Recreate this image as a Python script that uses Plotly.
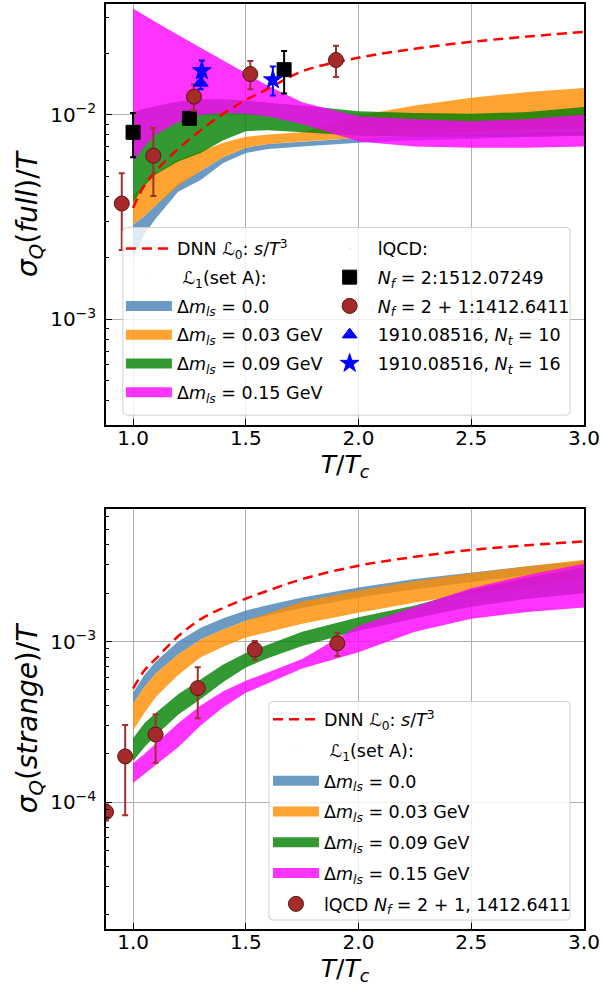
import plotly.graph_objects as go

FONT = "DejaVu Sans"

# ---------------- data ----------------
x_grid = [1.0, 1.05, 1.1, 1.2, 1.3, 1.4, 1.5, 1.6, 1.75, 2.0, 2.25, 2.5, 2.75, 3.0]

# top panel: sigma_Q(full)/T
full_dnn = [0.0035, 0.0045, 0.0053, 0.0068, 0.0084, 0.0101, 0.0118, 0.0134, 0.0163, 0.0190, 0.0210, 0.0227, 0.0241, 0.0254]
full_b_lo = [0.0020, 0.0026, 0.0031, 0.0042, 0.0048, 0.0058, 0.0065, 0.0068, 0.0070, 0.0073, 0.0075, 0.0076, 0.0078, 0.0079]
full_b_hi = [0.0029, 0.0032, 0.0036, 0.0046, 0.0053, 0.0062, 0.0069, 0.0072, 0.0074, 0.0077, 0.0079, 0.0080, 0.0082, 0.0083]
full_o_lo = [0.0029, 0.0032, 0.0036, 0.0045, 0.0053, 0.0062, 0.0069, 0.0072, 0.0074, 0.0077, 0.0080, 0.0082, 0.0084, 0.0086]
full_o_hi = [0.0040, 0.0046, 0.0052, 0.0060, 0.0066, 0.0073, 0.0078, 0.0080, 0.0082, 0.0099, 0.0111, 0.0121, 0.0129, 0.0135]
full_g_lo = [0.0037, 0.0045, 0.0051, 0.0059, 0.0065, 0.0075, 0.0083, 0.0084, 0.0082, 0.0079, 0.0078, 0.0078, 0.0078, 0.0079]
full_g_hi = [0.0103, 0.0107, 0.0110, 0.0116, 0.0119, 0.0119, 0.0117, 0.0115, 0.0111, 0.0104, 0.0102, 0.0101, 0.0103, 0.0109]
full_m_lo = [0.0059, 0.0070, 0.0080, 0.0092, 0.0100, 0.0102, 0.0101, 0.0098, 0.0090, 0.0074, 0.0070, 0.0069, 0.0069, 0.0070]
full_m_hi = [0.0330, 0.0305, 0.0284, 0.0245, 0.0212, 0.0184, 0.0159, 0.0138, 0.0115, 0.0098, 0.0095, 0.0093, 0.0095, 0.0100]

nf2_x = [1.0, 1.25, 1.67]
nf2_y = [0.0082, 0.0096, 0.0166]
nf2_err = [0.0020, 0.0003, 0.0039]
nf21_x = [0.95, 1.09, 1.27, 1.52, 1.90]
nf21_y = [0.00368, 0.0063, 0.01225, 0.0158, 0.0185]
nf21_err = [0.0015, 0.0023, 0.0018, 0.0025, 0.0032]
nt10_x = [1.30]
nt10_y = [0.0143]
nt10_err = [0.0010]
nt16_x = [1.305, 1.62]
nt16_y = [0.0164, 0.0148]
nt16_err = [0.0020, 0.0024]

# bottom panel: sigma_Q(strange)/T
str_dnn = [5.1e-4, 6.6e-4, 7.8e-4, 1.08e-3, 1.38e-3, 1.62e-3, 1.85e-3, 2.08e-3, 2.45e-3, 2.97e-3, 3.37e-3, 3.72e-3, 3.98e-3, 4.2e-3]
str_b_lo = [4.1e-4, 5.2e-4, 6.3e-4, 8.3e-4, 1.03e-3, 1.19e-3, 1.35e-3, 1.46e-3, 1.62e-3, 1.88e-3, 2.12e-3, 2.36e-3, 2.60e-3, 2.85e-3]
str_b_hi = [4.8e-4, 6.2e-4, 7.5e-4, 1.0e-3, 1.22e-3, 1.40e-3, 1.56e-3, 1.69e-3, 1.88e-3, 2.17e-3, 2.45e-3, 2.70e-3, 2.95e-3, 3.18e-3]
str_o_lo = [2.8e-4, 3.6e-4, 4.5e-4, 6.2e-4, 8.0e-4, 9.3e-4, 1.06e-3, 1.15e-3, 1.29e-3, 1.51e-3, 1.75e-3, 1.98e-3, 2.20e-3, 2.45e-3]
str_o_hi = [4.1e-4, 5.2e-4, 6.3e-4, 8.3e-4, 1.03e-3, 1.19e-3, 1.35e-3, 1.50e-3, 1.78e-3, 2.08e-3, 2.38e-3, 2.66e-3, 2.95e-3, 3.23e-3]
str_g_lo = [1.8e-4, 2.2e-4, 2.6e-4, 3.5e-4, 4.4e-4, 5.6e-4, 6.9e-4, 7.9e-4, 9.4e-4, 1.17e-3, 1.40e-3, 1.65e-3, 1.85e-3, 2.0e-3]
str_g_hi = [2.5e-4, 3.1e-4, 3.6e-4, 4.7e-4, 5.8e-4, 7.2e-4, 8.5e-4, 9.6e-4, 1.15e-3, 1.42e-3, 1.68e-3, 2.10e-3, 2.50e-3, 2.90e-3]
str_m_lo = [1.32e-4, 1.5e-4, 1.7e-4, 2.2e-4, 3.0e-4, 3.9e-4, 4.8e-4, 5.5e-4, 6.8e-4, 8.6e-4, 1.15e-3, 1.39e-3, 1.53e-3, 1.63e-3]
str_m_hi = [1.75e-4, 2.0e-4, 2.3e-4, 3.1e-4, 4.0e-4, 4.9e-4, 5.7e-4, 6.5e-4, 7.8e-4, 1.25e-3, 1.65e-3, 2.15e-3, 2.60e-3, 3.05e-3]

lq_x = [0.88, 0.965, 1.10, 1.287, 1.54, 1.906]
lq_y = [8.7e-5, 1.93e-4, 2.64e-4, 5.13e-4, 8.9e-4, 9.75e-4]
lq_err = [1e-5, 1.1e-4, 8.8e-5, 1.8e-4, 1.2e-4, 1.6e-4]

band_names = ["Δ<i>m</i><sub><i>ls</i></sub> = 0.0",
              "Δ<i>m</i><sub><i>ls</i></sub> = 0.03 GeV",
              "Δ<i>m</i><sub><i>ls</i></sub> = 0.09 GeV",
              "Δ<i>m</i><sub><i>ls</i></sub> = 0.15 GeV"]
band_colors = ["rgba(70,130,180,0.8)", "rgba(255,140,0,0.8)",
               "rgba(0,128,0,0.8)", "rgba(255,0,255,0.8)"]
dnn_name = "DNN ℒ<sub>0</sub>: <i>s</i>/<i>T</i><sup>3</sup>"
l1_name = " ℒ<sub>1</sub>(set A):"

x_ticks = [1.0, 1.5, 2.0, 2.5, 3.0]
x_ticktext = ["1.0", "1.5", "2.0", "2.5", "3.0"]

fig = go.Figure()


def add_band(lo, hi, color, name, xa, ya, legend, rank):
    # the band itself
    fig.add_trace(go.Scatter(
        x=x_grid + x_grid[::-1], y=lo + hi[::-1], fill="toself", mode="lines",
        line=dict(width=0, color=color), fillcolor=color, name=name,
        xaxis=xa, yaxis=ya, showlegend=False, legendgroup=legend + name,
        hoverinfo="skip"))
    # legend patch
    fig.add_trace(go.Scatter(
        x=[None], y=[None], mode="lines", line=dict(width=13, color=color), name=name,
        xaxis=xa, yaxis=ya, legend=legend, legendrank=rank, legendgroup=legend + name))


def add_header(name, legend, rank, xa, ya):
    fig.add_trace(go.Scatter(
        x=[None], y=[None], mode="markers", marker=dict(opacity=0, size=1),
        name=name, xaxis=xa, yaxis=ya, legend=legend, legendrank=rank,
        legendgroup=legend + name))


def add_points(xs, ys, err, symbol, color, edge, size, name, xa, ya, legend, rank, ecolor):
    fig.add_trace(go.Scatter(
        x=xs, y=ys, mode="markers", name=name, xaxis=xa, yaxis=ya,
        marker=dict(symbol=symbol, color=color, size=size, line=dict(color=edge, width=1)),
        error_y=dict(type="data", array=err, color=ecolor, thickness=2, width=3),
        legend=legend, legendrank=rank, legendgroup=legend + name, cliponaxis=True))


# ---- top panel ----
for lo, hi, c, n, r in zip([full_b_lo, full_o_lo, full_g_lo, full_m_lo],
                           [full_b_hi, full_o_hi, full_g_hi, full_m_hi],
                           band_colors, band_names, [3, 4, 5, 6]):
    add_band(lo, hi, c, n, "x", "y", "legend", r)
fig.add_trace(go.Scatter(x=x_grid, y=full_dnn, mode="lines", name=dnn_name,
                         line=dict(color="red", width=2.5, dash="10px,6px", shape="spline"),
                         xaxis="x", yaxis="y", legend="legend", legendrank=1,
                         legendgroup="legenddnn"))
add_header(l1_name, "legend", 2, "x", "y")
add_header("lQCD:", "legend2", 1, "x", "y")
add_points(nf2_x, nf2_y, nf2_err, "square", "black", "black", 14,
           "<i>N</i><sub><i>f</i></sub> = 2:1512.07249", "x", "y", "legend2", 2, "black")
add_points(nf21_x, nf21_y, nf21_err, "circle", "#a52a2a", "#5a1414", 15,
           "<i>N</i><sub><i>f</i></sub> = 2 + 1:1412.6411", "x", "y", "legend2", 3, "#a0302c")
add_points(nt10_x, nt10_y, nt10_err, "triangle-up", "blue", "blue", 13,
           "1910.08516, <i>N</i><sub><i>t</i></sub> = 10", "x", "y", "legend2", 4, "blue")
add_points(nt16_x, nt16_y, nt16_err, "star", "blue", "blue", 14,
           "1910.08516, <i>N</i><sub><i>t</i></sub> = 16", "x", "y", "legend2", 5, "blue")

# ---- bottom panel ----
for lo, hi, c, n, r in zip([str_b_lo, str_o_lo, str_g_lo, str_m_lo],
                           [str_b_hi, str_o_hi, str_g_hi, str_m_hi],
                           band_colors, band_names, [3, 4, 5, 6]):
    add_band(lo, hi, c, n, "x2", "y2", "legend3", r)
fig.add_trace(go.Scatter(x=x_grid, y=str_dnn, mode="lines", name=dnn_name,
                         line=dict(color="red", width=2.5, dash="10px,6px", shape="spline"),
                         xaxis="x2", yaxis="y2", legend="legend3", legendrank=1,
                         legendgroup="legend3dnn"))
add_header(l1_name, "legend3", 2, "x2", "y2")
add_points(lq_x, lq_y, lq_err, "circle", "#a52a2a", "#5a1414", 15,
           "lQCD <i>N</i><sub><i>f</i></sub> = 2 + 1, 1412.6411", "x2", "y2", "legend3", 7, "#a0302c")

# ---------------- layout ----------------
W, H = 602, 994
ML, MR, MT, MB = 106, 15, 2, 65
PW, PH = W - ML - MR, H - MT - MB


def px2x(px):
    return (px - ML) / PW


def py2y(py):
    return (H - MB - py) / PH


top_dom = [py2y(424), 1.0]
bot_dom = [0.0, py2y(508)]


def minor_vals(lo_exp, hi_exp):
    vals = []
    for e in range(lo_exp, hi_exp + 1):
        for m in range(2, 10):
            vals.append(m * 10 ** e)
    return vals


axis_common = dict(showline=True, linecolor="black", linewidth=1.5, mirror=True,
                   ticks="inside", tickcolor="black", ticklen=6, tickwidth=1,
                   showgrid=True, gridcolor="#b0b0b0", gridwidth=1, zeroline=False,
                   tickfont=dict(family=FONT, size=20, color="black"))

xaxis_common = dict(axis_common, range=[0.88, 3.0], tickvals=x_ticks, ticktext=x_ticktext,
                    ticklabelstandoff=-6, ticklabeloverflow="allow",
                    title=dict(text="<i>T</i>/<i>T</i><sub><i>c</i></sub>",
                               font=dict(family=FONT, size=25, color="black"), standoff=4))

leg_font = dict(family=FONT, size=17.5, color="black")

fig.update_layout(
    width=W, height=H, margin=dict(l=ML, r=MR, t=MT, b=MB),
    paper_bgcolor="white", plot_bgcolor="white",
    font=dict(family=FONT, color="black"),
    xaxis=dict(xaxis_common, domain=[0, 1], anchor="y"),
    xaxis2=dict(xaxis_common, domain=[0, 1], anchor="y2"),
    yaxis=dict(axis_common, type="log", domain=top_dom, anchor="x",
               range=[-3.517, -1.459], tickvals=[1e-3, 1e-2],
               ticktext=["10<sup>−3</sup>", "10<sup>−2</sup>"], ticklabelstandoff=4,
               minor=dict(tickvals=minor_vals(-4, -2), ticks="inside", ticklen=3,
                          tickcolor="black", showgrid=False),
               title=dict(text="<i>σ</i><sub><i>Q</i></sub>(<i>full</i>)/<i>T</i>",
                          font=dict(family=FONT, size=28, color="black"), standoff=4)),
    yaxis2=dict(axis_common, type="log", domain=bot_dom, anchor="x2",
                range=[-4.789, -2.174], tickvals=[1e-4, 1e-3],
                ticktext=["10<sup>−4</sup>", "10<sup>−3</sup>"], ticklabelstandoff=4,
                minor=dict(tickvals=minor_vals(-5, -3), ticks="inside", ticklen=3,
                           tickcolor="black", showgrid=False),
                title=dict(text="<i>σ</i><sub><i>Q</i></sub>(<i>strange</i>)/<i>T</i>",
                           font=dict(family=FONT, size=28, color="black"), standoff=4)),
    legend=dict(x=px2x(121), y=py2y(229), xanchor="left", yanchor="top",
                bgcolor="rgba(0,0,0,0)", borderwidth=0, traceorder="grouped",
                tracegroupgap=3, itemwidth=46, font=leg_font),
    legend2=dict(x=px2x(323), y=py2y(229), xanchor="left", yanchor="top",
                 bgcolor="rgba(0,0,0,0)", borderwidth=0, traceorder="grouped",
                 tracegroupgap=3, itemwidth=46, font=leg_font),
    legend3=dict(x=px2x(269), y=py2y(701), xanchor="left", yanchor="top",
                 bgcolor="rgba(0,0,0,0)", borderwidth=0, traceorder="grouped",
                 tracegroupgap=5, itemwidth=46, font=leg_font),
    showlegend=True,
)


def box_path(x0p, y0p, x1p, y1p, r=4):
    x0, x1 = px2x(x0p), px2x(x1p)
    y0, y1 = py2y(y1p), py2y(y0p)
    rx, ry = r / PW, r / PH
    return (f"M{x0 + rx},{y0} L{x1 - rx},{y0} Q{x1},{y0} {x1},{y0 + ry} "
            f"L{x1},{y1 - ry} Q{x1},{y1} {x1 - rx},{y1} L{x0 + rx},{y1} "
            f"Q{x0},{y1} {x0},{y1 - ry} L{x0},{y0 + ry} Q{x0},{y0} {x0 + rx},{y0} Z")


for (a, b, c, d) in [(123, 226, 573, 414), (270, 701, 573, 920)]:
    fig.add_shape(type="path", xref="paper", yref="paper", path=box_path(a, b, c, d),
                  fillcolor="rgba(255,255,255,0.8)", line=dict(color="#d0d0d0", width=1),
                  layer="above")

fig.write_html("out.html", config={"displayModeBar": False},
               post_script="document.body.style.margin='0';document.body.style.overflow='hidden';")
